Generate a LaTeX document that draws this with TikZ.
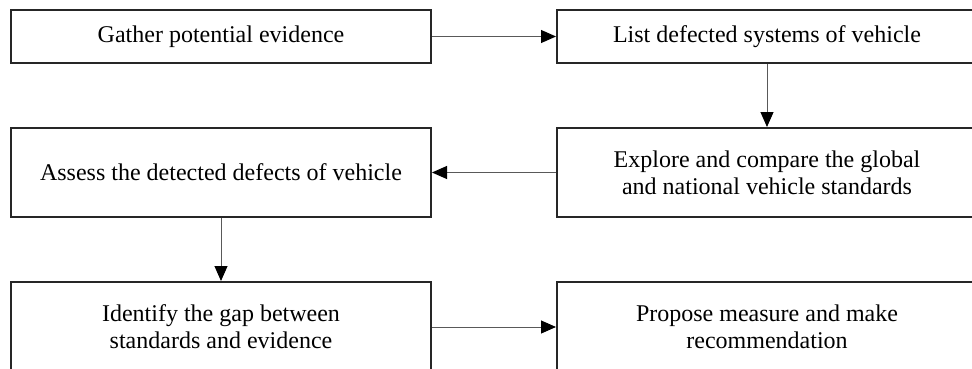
\documentclass[tikz,border=0pt]{standalone}
\usepackage{fontspec}
\setmainfont{Liberation Serif}
\usetikzlibrary{arrows.meta}
\begin{document}
\begin{tikzpicture}[x=1pt,y=-1pt,>={Triangle[length=15pt,width=13pt,color=black]},
    stagebox/.style={draw=black!85,line width=2pt,fill=white,minimum width=420pt,
      align=center,inner sep=0pt,font=\fontsize{24}{27}\selectfont},
    flow/.style={->,line width=1pt,draw=black!65}]
  % page frame (right and lower boxes run past it)
  \clip (0,0) rectangle (972,369);
  \fill[white] (0,0) rectangle (972,369);
  % stages
  \node[stagebox,minimum height=53pt] (gather)   at (221,36.5) {Gather potential evidence};
  \node[stagebox,minimum height=53pt] (list)     at (767,36.5) {List defected systems of vehicle};
  \node[stagebox,minimum height=89pt] (explore)  at (767,172.5) {Explore and compare the global\\and national vehicle standards};
  \node[stagebox,minimum height=89pt] (assess)   at (221,172.5) {Assess the detected defects of vehicle};
  \node[stagebox,minimum height=90pt] (identify) at (221,327) {Identify the gap between\\standards and evidence};
  \node[stagebox,minimum height=90pt] (propose)  at (767,327) {Propose measure and make\\recommendation};
  % connectors
  \draw[flow] (gather) -- (list);
  \draw[flow] (list) -- (explore);
  \draw[flow] (explore) -- (assess);
  \draw[flow] (assess) -- (identify);
  \draw[flow] (identify) -- (propose);
\end{tikzpicture}
\end{document}
